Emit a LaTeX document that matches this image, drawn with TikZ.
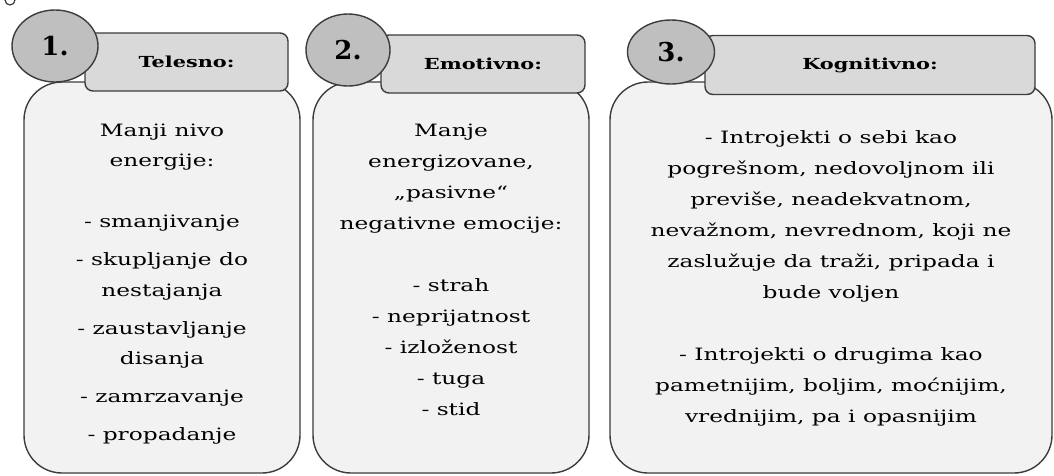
\documentclass[tikz,border=0pt]{standalone}
\usepackage{fontspec}
\setmainfont{DejaVu Serif}[FakeStretch=1.37]
\newfontfamily\numfont{DejaVu Serif}[FakeStretch=1.0]
\usetikzlibrary{shapes.geometric}
\definecolor{linegray}{HTML}{3C3C3C}
\definecolor{circfill}{HTML}{BFBFBF}
\definecolor{headfill}{HTML}{D9D9D9}
\definecolor{bodyfill}{HTML}{F2F2F2}
\begin{document}
\begin{tikzpicture}[x=1pt,y=-1pt,
  bodybox/.style={draw=linegray, line width=1.4pt, fill=bodyfill, rounded corners=38pt, inner sep=0pt},
  headbox/.style={draw=linegray, line width=1.4pt, fill=headfill, rounded corners=8pt, inner sep=0pt, font=\bfseries\fontsize{15.2}{17}\selectfont},
  numcirc/.style={ellipse, draw=linegray, line width=1.4pt, fill=circfill, inner sep=0pt, font=\numfont\bfseries\fontsize{26}{28}\selectfont},
  bodytext/.style={anchor=north, align=center, inner sep=0pt, font=\fontsize{17}{30.5}\selectfont}
]
\useasboundingbox (0,0) rectangle (1054,475);
% stray mark at top-left
\draw[linegray, line width=1.2pt] (10,0) circle (5pt);
% bodies
\node[bodybox, minimum width=276pt, minimum height=391pt] (b1) at (162,277.5) {};
\node[bodybox, minimum width=276pt, minimum height=391pt] (b2) at (451,277.5) {};
\node[bodybox, minimum width=442pt, minimum height=391pt] (b3) at (831,277.5) {};
% headers
\node[headbox, minimum width=203pt, minimum height=58pt] (h1) at (186.5,62) {Telesno:};
\node[headbox, minimum width=204pt, minimum height=58pt] (h2) at (483,64) {Emotivno:};
\node[headbox, minimum width=330pt, minimum height=59pt] (h3) at (870,65) {Kognitivno:};
% number circles
\node[numcirc, minimum width=86pt, minimum height=72pt] (c1) at (55,46) {1.};
\node[numcirc, minimum width=84pt, minimum height=72pt] (c2) at (348,50) {2.};
\node[numcirc, minimum width=87pt, minimum height=64pt] (c3) at (671,52) {3.};
% texts
\node[bodytext] (t1) at (162,123.5) {Manji nivo\\ energije:\\ \\ - smanjivanje\\[7.5pt] - skupljanje do\\ nestajanja\\[7.5pt] - zaustavljanje\\ disanja\\[7.5pt] - zamrzavanje\\[7.5pt] - propadanje};
\node[bodytext, font=\fontsize{17}{31}\selectfont] (t2) at (451,123.5) {Manje\\ energizovane,\\ „pasivne“\\ negativne emocije:\\ \\ - strah\\ - neprijatnost\\ - izloženost\\ - tuga\\ - stid};
\node[bodytext, font=\fontsize{17}{31}\selectfont] (t3) at (831,130) {- Introjekti o sebi kao\\ pogrešnom, nedovoljnom ili\\ previše, neadekvatnom,\\ nevažnom, nevrednom, koji ne\\ zaslužuje da traži, pripada i\\ bude voljen\\ \\ - Introjekti o drugima kao\\ pametnijim, boljim, moćnijim,\\ vrednijim, pa i opasnijim};
\end{tikzpicture}
\end{document}
